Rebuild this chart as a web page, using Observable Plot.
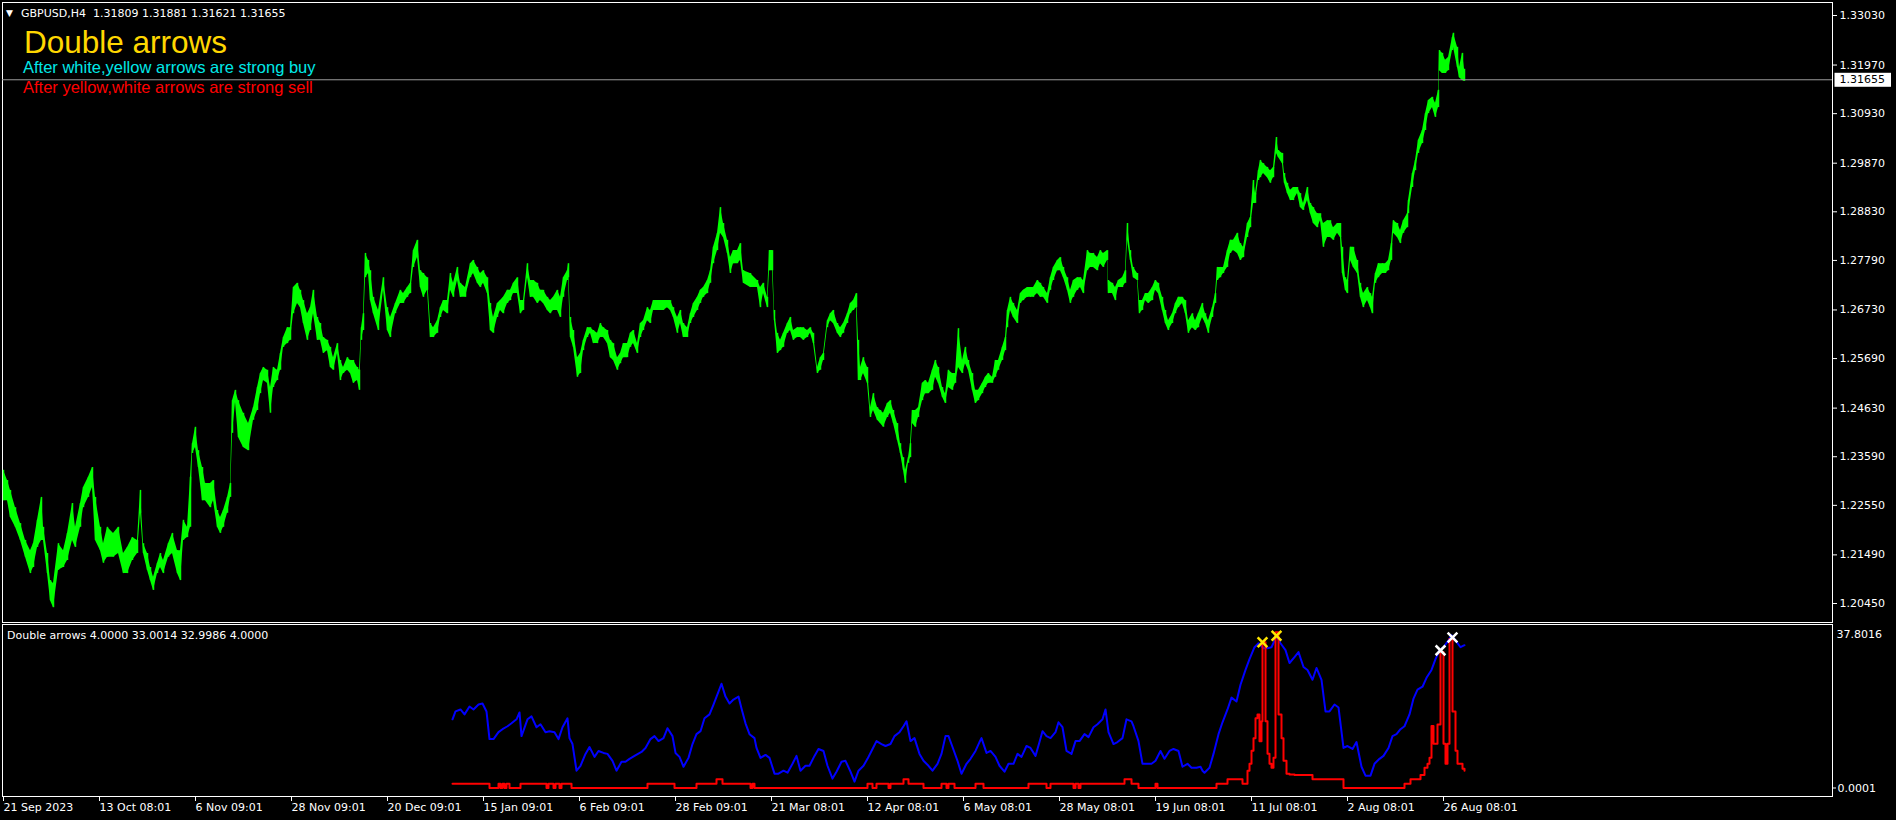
<!DOCTYPE html>
<html><head><meta charset="utf-8">
<script src="https://cdn.jsdelivr.net/npm/d3@7"></script>
<script src="https://cdn.jsdelivr.net/npm/@observablehq/plot@0.6"></script>
<style>
html,body{margin:0;padding:0;background:#000;}
#wrap{position:relative;width:1896px;height:820px;background:#000;overflow:hidden;}
#wrap svg{position:absolute;left:0;}
</style></head><body><div id="wrap"></div>
<script>
// ---- main chart: GBPUSD H4 bars (bar number, high, low) ----
const priceBar = [
0,4,7,12,17,22,27,30,34,38, 40,44,47,50,55,60,64,69,72,77, 80,85,89,92,97,100,104,110,115,120,
124,129,134,137,140,144,147,150,154,157, 160,165,169,174,177,180,184,187,189,192, 195,199,202,207,210,214,217,220,224,227,
229,232,235,240,245,250,254,257,260,264, 267,270,274,277,280,284,287,290,294,297, 300,304,307,310,314,317,320,324,327,330,
334,337,340,344,347,350,354,356,358,360, 362,365,367,370,375,380,384,387,392,397, 400,404,407,410,414,417,420,424,427,430,
434,437,440,444,447,450,454,457,462,467, 470,474,477,480,484,487,490,494,497,500, 504,507,510,514,517,520,524,527,530,534,
537,540,544,547,550,554,557,560,564,565, 567,570,574,577,580,584,587,590,594,597, 600,604,607,610,614,617,620,624,627,630,
634,637,640,644,647,650,654,657,660,664, 667,670,674,677,680,684,687,690,694,697, 700,704,707,710,714,717,720,724,727,730,
734,737,740,747,754,757,760,764,766,769, 771,774,777,780,784,787,790,794,797,800, 804,807,810,814,817,820,824,827,830,834,
837,840,844,847,850,853,855,857,860,864, 867,870,874,877,880,884,887,890,894,897, 900,902,905,907,909,912,915,919,922,925,
929,932,935,939,942,945,949,952,955,959, 962,965,969,972,975,979,982,985,989,992, 995,999,1002,1004,1007,1010,1014,1017,1020,1024,
1027,1030,1034,1037,1040,1044,1047,1050,1054,1057, 1060,1064,1067,1070,1074,1077,1080,1084,1087,1090, 1094,1097,1100,1104,1105,1109,1112,1115,1119,1122,
1124,1127,1130,1134,1136,1139,1142,1145,1149,1152, 1155,1159,1162,1165,1169,1172,1175,1179,1182,1185, 1189,1192,1195,1199,1202,1205,1209,1212,1214,1217,
1220,1224,1227,1230,1234,1237,1240,1244,1247,1250, 1252,1255,1257,1260,1264,1267,1270,1273,1275,1279, 1281,1284,1287,1290,1294,1297,1300,1304,1307,1310,
1314,1317,1320,1324,1327,1330,1334,1337,1339,1342, 1344,1347,1350,1354,1357,1360,1364,1367,1369,1372, 1375,1379,1382,1385,1388,1390,1394,1397,1400,1404,
1405,1409,1412,1415,1419,1422,1425,1429,1432,1435, 1436,1439,1442,1445,1449,1450,1454,1456,1459,1461
];
const priceHigh = [
1.2330,1.2308,1.2287,1.2250,1.2216,1.2180,1.2158,1.2173,1.2223,1.2272, 1.2208,1.2152,1.2094,1.2088,1.2173,1.2158,1.2195,1.2259,1.2208,1.2259, 1.2293,1.2315,1.2336,1.2272,1.2208,1.2173,1.2208,1.2195,1.2208,1.2152,
1.2165,1.2186,1.2180,1.2287,1.2173,1.2152,1.2122,1.2101,1.2131,1.2152, 1.2137,1.2173,1.2195,1.2158,1.2158,1.2223,1.2208,1.2315,1.2387,1.2422, 1.2372,1.2336,1.2302,1.2302,1.2308,1.2244,1.2229,1.2244,1.2272,1.2302,
1.2479,1.2501,1.2479,1.2452,1.2430,1.2464,1.2507,1.2537,1.2550,1.2544, 1.2507,1.2550,1.2544,1.2580,1.2614,1.2635,1.2635,1.2721,1.2730,1.2715, 1.2693,1.2665,1.2678,1.2715,1.2657,1.2644,1.2614,1.2608,1.2593,1.2571,
1.2601,1.2565,1.2550,1.2571,1.2565,1.2565,1.2550,1.2544,1.2635,1.2665, 1.2794,1.2779,1.2757,1.2700,1.2672,1.2742,1.2678,1.2657,1.2687,1.2715, 1.2708,1.2721,1.2730,1.2800,1.2822,1.2757,1.2751,1.2742,1.2644,1.2635,
1.2650,1.2678,1.2693,1.2693,1.2751,1.2730,1.2764,1.2730,1.2721,1.2772, 1.2779,1.2764,1.2751,1.2757,1.2742,1.2687,1.2657,1.2687,1.2693,1.2700, 1.2715,1.2715,1.2730,1.2742,1.2693,1.2693,1.2772,1.2736,1.2736,1.2730,
1.2715,1.2715,1.2700,1.2693,1.2700,1.2715,1.2700,1.2742,1.2757,1.2772, 1.2657,1.2629,1.2571,1.2580,1.2608,1.2635,1.2635,1.2629,1.2623,1.2644, 1.2635,1.2629,1.2608,1.2601,1.2571,1.2580,1.2601,1.2601,1.2623,1.2629,
1.2601,1.2644,1.2650,1.2678,1.2672,1.2693,1.2693,1.2693,1.2693,1.2693, 1.2693,1.2678,1.2657,1.2672,1.2644,1.2635,1.2665,1.2687,1.2700,1.2715, 1.2721,1.2736,1.2757,1.2807,1.2837,1.2892,1.2858,1.2822,1.2785,1.2800,
1.2800,1.2815,1.2757,1.2751,1.2736,1.2721,1.2730,1.2700,1.2800,1.2800, 1.2672,1.2623,1.2608,1.2623,1.2644,1.2657,1.2629,1.2635,1.2635,1.2635, 1.2629,1.2635,1.2623,1.2550,1.2571,1.2580,1.2650,1.2665,1.2672,1.2644,
1.2635,1.2644,1.2665,1.2687,1.2693,1.2708,1.2608,1.2550,1.2571,1.2550, 1.2464,1.2494,1.2464,1.2458,1.2452,1.2473,1.2479,1.2458,1.2430,1.2387, 1.2357,1.2330,1.2357,1.2387,1.2458,1.2458,1.2464,1.2516,1.2522,1.2516,
1.2544,1.2565,1.2550,1.2507,1.2494,1.2544,1.2537,1.2537,1.2633,1.2565, 1.2593,1.2565,1.2537,1.2501,1.2501,1.2516,1.2529,1.2537,1.2529,1.2565, 1.2565,1.2593,1.2614,1.2672,1.2700,1.2687,1.2672,1.2708,1.2715,1.2721,
1.2721,1.2721,1.2736,1.2730,1.2721,1.2708,1.2742,1.2764,1.2779,1.2785, 1.2764,1.2742,1.2715,1.2736,1.2742,1.2742,1.2736,1.2800,1.2794,1.2794, 1.2785,1.2800,1.2794,1.2800,1.2736,1.2730,1.2721,1.2736,1.2742,1.2757,
1.2858,1.2800,1.2764,1.2751,1.2693,1.2693,1.2708,1.2708,1.2721,1.2736, 1.2730,1.2700,1.2672,1.2650,1.2665,1.2687,1.2700,1.2700,1.2693,1.2650, 1.2665,1.2650,1.2665,1.2687,1.2665,1.2650,1.2678,1.2708,1.2764,1.2764,
1.2764,1.2800,1.2822,1.2822,1.2837,1.2815,1.2807,1.2858,1.2871,1.2950, 1.2922,1.2971,1.2993,1.2986,1.2978,1.2971,1.2978,1.3042,1.3014,1.3008, 1.2965,1.2944,1.2929,1.2935,1.2935,1.2922,1.2901,1.2935,1.2901,1.2892,
1.2879,1.2879,1.2858,1.2864,1.2864,1.2849,1.2858,1.2858,1.2807,1.2742, 1.2736,1.2807,1.2807,1.2779,1.2730,1.2708,1.2721,1.2708,1.2700,1.2751, 1.2772,1.2772,1.2772,1.2779,1.2815,1.2864,1.2858,1.2843,1.2864,1.2879,
1.2907,1.2965,1.2993,1.3036,1.3057,1.3093,1.3121,1.3128,1.3115,1.3143, 1.3228,1.3222,1.3207,1.3213,1.3256,1.3265,1.3235,1.3192,1.3222,1.3188
];
const priceLow = [
1.2265,1.2265,1.2229,1.2208,1.2180,1.2144,1.2109,1.2122,1.2165,1.2180, 1.2180,1.2109,1.2051,1.2036,1.2116,1.2122,1.2137,1.2180,1.2165,1.2208, 1.2250,1.2272,1.2293,1.2180,1.2158,1.2131,1.2144,1.2144,1.2152,1.2109,
1.2109,1.2137,1.2152,1.2238,1.2152,1.2116,1.2094,1.2073,1.2109,1.2122, 1.2109,1.2144,1.2152,1.2109,1.2094,1.2180,1.2186,1.2208,1.2366,1.2379, 1.2336,1.2265,1.2265,1.2250,1.2265,1.2208,1.2195,1.2208,1.2238,1.2272,
1.2409,1.2475,1.2400,1.2379,1.2372,1.2437,1.2458,1.2494,1.2522,1.2516, 1.2452,1.2507,1.2522,1.2544,1.2593,1.2601,1.2608,1.2665,1.2687,1.2678, 1.2644,1.2608,1.2629,1.2665,1.2608,1.2608,1.2580,1.2586,1.2550,1.2544,
1.2580,1.2522,1.2537,1.2544,1.2537,1.2516,1.2522,1.2501,1.2608,1.2629, 1.2742,1.2751,1.2693,1.2665,1.2629,1.2715,1.2629,1.2614,1.2665,1.2687, 1.2687,1.2700,1.2708,1.2764,1.2785,1.2721,1.2700,1.2715,1.2614,1.2614,
1.2623,1.2657,1.2672,1.2665,1.2715,1.2700,1.2736,1.2700,1.2700,1.2742, 1.2751,1.2730,1.2721,1.2730,1.2708,1.2629,1.2623,1.2657,1.2672,1.2665, 1.2687,1.2693,1.2708,1.2708,1.2665,1.2672,1.2742,1.2700,1.2700,1.2687,
1.2693,1.2687,1.2672,1.2665,1.2672,1.2672,1.2657,1.2700,1.2736,1.2742, 1.2614,1.2593,1.2529,1.2537,1.2586,1.2614,1.2623,1.2601,1.2601,1.2614, 1.2614,1.2601,1.2571,1.2565,1.2544,1.2558,1.2571,1.2571,1.2593,1.2601,
1.2580,1.2614,1.2629,1.2650,1.2644,1.2672,1.2672,1.2672,1.2672,1.2678, 1.2672,1.2657,1.2623,1.2644,1.2614,1.2614,1.2644,1.2657,1.2672,1.2687, 1.2700,1.2708,1.2730,1.2772,1.2800,1.2837,1.2828,1.2794,1.2751,1.2772,
1.2772,1.2779,1.2730,1.2721,1.2721,1.2678,1.2708,1.2678,1.2757,1.2757, 1.2650,1.2580,1.2586,1.2593,1.2623,1.2629,1.2608,1.2614,1.2614,1.2608, 1.2614,1.2623,1.2601,1.2537,1.2544,1.2565,1.2635,1.2650,1.2644,1.2623,
1.2614,1.2623,1.2644,1.2665,1.2672,1.2678,1.2522,1.2522,1.2537,1.2516, 1.2443,1.2458,1.2437,1.2430,1.2422,1.2443,1.2452,1.2430,1.2394,1.2366, 1.2330,1.2302,1.2345,1.2357,1.2430,1.2422,1.2443,1.2479,1.2494,1.2494,
1.2501,1.2529,1.2516,1.2486,1.2473,1.2507,1.2501,1.2516,1.2550,1.2537, 1.2558,1.2544,1.2501,1.2473,1.2479,1.2494,1.2507,1.2516,1.2516,1.2529, 1.2544,1.2565,1.2586,1.2635,1.2672,1.2657,1.2644,1.2687,1.2693,1.2700,
1.2700,1.2700,1.2708,1.2700,1.2700,1.2687,1.2715,1.2736,1.2757,1.2757, 1.2742,1.2715,1.2687,1.2700,1.2715,1.2721,1.2708,1.2757,1.2764,1.2764, 1.2757,1.2772,1.2764,1.2779,1.2708,1.2708,1.2693,1.2721,1.2721,1.2730,
1.2822,1.2779,1.2742,1.2736,1.2665,1.2672,1.2693,1.2687,1.2693,1.2715, 1.2708,1.2672,1.2644,1.2629,1.2644,1.2665,1.2678,1.2687,1.2665,1.2623, 1.2635,1.2629,1.2635,1.2657,1.2644,1.2623,1.2657,1.2687,1.2736,1.2742,
1.2751,1.2764,1.2794,1.2800,1.2794,1.2779,1.2785,1.2828,1.2849,1.2901, 1.2901,1.2950,1.2956,1.2965,1.2956,1.2944,1.2956,1.3008,1.2999,1.2986, 1.2944,1.2922,1.2907,1.2907,1.2922,1.2892,1.2886,1.2907,1.2879,1.2858,
1.2849,1.2864,1.2807,1.2828,1.2828,1.2822,1.2837,1.2828,1.2751,1.2715, 1.2708,1.2779,1.2764,1.2751,1.2700,1.2678,1.2693,1.2678,1.2665,1.2730, 1.2742,1.2751,1.2751,1.2757,1.2779,1.2837,1.2828,1.2815,1.2837,1.2849,
1.2879,1.2935,1.2971,1.3008,1.3029,1.3057,1.3093,1.3106,1.3085,1.3106, 1.3185,1.3179,1.3179,1.3185,1.3228,1.3235,1.3192,1.3170,1.3164,1.3162
];
const lastClose = 1.31655;
const priceTicks = [1.33030,1.31970,1.30930,1.29870,1.28830,1.27790,1.26730,1.25690,1.24630,1.23590,1.22550,1.21490,1.20450];

// ---- "Double arrows" indicator window ----
const blueBar = [
449,452,457,461,466,470,475,479,483,486, 490,495,499,504,508,513,516,518,524,528,
533,537,542,546,551,555,559,564,566,569, 573,577,582,586,591,595,600,604,609,613,
618,622,626,631,638,642,647,651,655,660, 664,669,672,676,680,685,689,693,697,701,
706,710,715,718,722,726,730,735,738,742, 746,751,753,757,762,766,771,775,780,784,
789,793,797,802,806,811,815,820,824,829, 833,838,842,847,851,855,860,864,869,873,
878,882,887,891,896,900,903,907,911,916, 920,925,929,934,938,942,945,949,954,958,
963,967,972,976,978,983,987,992,996,1001, 1005,1010,1014,1018,1023,1027,1032,1036,1039,1043,
1047,1052,1055,1059,1063,1068,1072,1076,1081,1085, 1090,1094,1099,1102,1105,1110,1114,1119,1123,1128,
1130,1135,1139,1143,1148,1152,1157,1161,1166,1170, 1175,1179,1184,1188,1193,1197,1199,1201,1206,1210,
1215,1219,1224,1228,1233,1237,1242,1246,1251,1255, 1260,1264,1268,1273,1277,1282,1286,1291,1295,1300,
1304,1309,1313,1318,1322,1326,1331,1335,1340,1344, 1349,1353,1358,1362,1367,1371,1376,1380,1385,1389,
1393,1397,1401,1406,1410,1414,1419,1423,1428,1432, 1436,1440,1445,1448,1452,1457,1461
];
const blueValue = [
15.87,17.69,18.15,17.01,18.83,18.15,19.29,19.52,17.69,11.30, 11.30,12.90,13.58,14.27,14.95,15.87,17.46,11.99,15.87,16.55,
14.04,14.73,12.90,13.13,12.90,11.30,14.04,16.10,11.53,10.16, 4.00,5.14,7.88,9.47,7.19,8.56,8.10,7.88,6.28,4.00,
6.05,6.05,6.74,7.42,8.33,9.25,11.30,11.99,10.84,11.53, 13.81,11.99,8.10,7.19,4.91,6.96,10.16,12.44,13.13,16.10,
17.01,19.29,22.26,24.09,21.12,19.52,20.43,21.12,18.38,14.95, 12.44,11.53,9.25,6.96,7.65,6.96,3.31,3.31,4.00,3.54,
5.59,7.42,4.00,5.14,5.14,7.42,9.02,8.56,5.14,2.17, 3.77,6.05,6.28,3.77,1.48,4.00,5.14,6.74,9.02,10.84,
10.16,9.70,10.16,11.99,12.90,14.27,15.41,10.84,11.53,7.88, 6.28,5.14,4.00,5.59,7.88,11.99,11.99,9.47,6.28,3.31,
5.59,6.74,8.56,10.62,11.53,8.10,8.56,7.19,5.14,3.77, 5.59,5.59,7.88,7.19,9.70,9.25,7.42,10.62,13.13,11.99,
11.53,12.90,15.18,14.04,8.56,7.88,10.84,10.84,12.44,11.76, 14.04,14.73,15.87,18.15,12.90,10.16,10.62,11.53,15.87,15.41,
14.27,10.84,5.59,5.59,5.59,6.28,8.56,6.74,8.56,9.02, 8.56,4.91,5.59,4.68,4.68,4.91,4.00,3.54,4.68,7.88,
12.44,15.18,18.15,20.89,19.98,23.86,27.28,29.79,32.53,33.45, 32.30,32.30,32.53,35.04,33.45,31.85,28.88,30.25,31.39,27.97,
27.28,25.00,27.74,25.00,17.69,17.69,19.29,18.61,9.25,9.70, 9.02,10.62,4.91,2.85,2.85,5.59,6.74,7.42,9.25,11.99,
12.44,13.58,14.27,17.01,20.66,22.72,23.40,25.46,27.28,29.79, 31.85,32.53,34.13,35.27,34.13,32.53,32.99
];
const redBar = [
449,486,495,497,499,501,503,506,517,543, 545,550,552,556,558,568,644,671,693,713,
719,747,749,751,864,869,873,885,887,900, 905,920,938,943,945,951,972,980,1025,1043,
1047,1070,1072,1075,1077,1121,1128,1135,1152,1154, 1213,1224,1239,1244,1246,1248,1250,1252,1254,1256,
1258,1259,1262,1264,1266,1268,1270,1272,1275,1278, 1280,1283,1286,1291,1309,1340,1401,1407,1417,1421,
1424,1426,1428,1430,1434,1437,1440,1442,1444,1446, 1449,1452,1454,1459,1461
];
const redValue = [
1,0,1,0,1,0,1,0,1,0, 1,0,1,0,1,0,1,0,1,2,
1,0,1,0,1,0,1,0,1,2, 1,0,1,0,1,0,1,0,1,0,
1,0,1,0,1,2,1,0,1,0, 1,2,1,4.0,5.6,8.6,11.5,16.1,17.0,10.8,
15.4,33.7,15.4,7.9,5.6,4.7,7.0,36.0,17.0,11.5, 6.3,3.3,3.1,3,2,0,1,2,3,4.7,
5.6,7.0,14.3,10.2,14.7,31.4,10.2,5.6,10.2,34.4, 17.7,8.6,5.6,4.45,4.0
];
const yellowArrowBar = [1259, 1273];
const yellowArrowValue = [33.7, 35.2];
const whiteArrowBar = [1437, 1449];
const whiteArrowValue = [31.8, 34.8];
const oscMax = 37.8016, oscMin = 0.0001;

// ---- time axis ----
const dateTickBar = [0,96,192,288,384,480,576,672,768,864,960,1056,1152,1248,1344,1440];
const dateTickLabel = ["21 Sep 2023","13 Oct 08:01","6 Nov 09:01","28 Nov 09:01","20 Dec 09:01","15 Jan 09:01","6 Feb 09:01","28 Feb 09:01","21 Mar 08:01","12 Apr 08:01","6 May 08:01","28 May 08:01","19 Jun 08:01","11 Jul 08:01","2 Aug 08:01","26 Aug 08:01"];

// ---- texts ----
const headerText = "GBPUSD,H4  1.31809 1.31881 1.31621 1.31655";
const titleText = "Double arrows";
const buyText = "After white,yellow arrows are strong buy";
const sellText = "After yellow,white arrows are strong sell";
const indicatorText = "Double arrows 4.0000 33.0014 32.9986 4.0000";

const wrap = document.getElementById("wrap");
const plotStyle = "background:#000;color:#fff;font-family:'DejaVu Sans',sans-serif;font-size:11px;overflow:visible;";

const prices = priceBar.map((b, i) => ({bar: b, hi: priceHigh[i], lo: priceLow[i]}));
const blue = blueBar.map((b, i) => ({bar: b, v: blueValue[i]}));
const red = redBar.map((b, i) => ({bar: b, v: redValue[i]}));
const yellowArrows = yellowArrowBar.map((b, i) => ({bar: b, v: yellowArrowValue[i]}));
const whiteArrows = whiteArrowBar.map((b, i) => ({bar: b, v: whiteArrowValue[i]}));

const main = Plot.plot({
  width: 1896, height: 623,
  marginLeft: 2, marginRight: 64, marginTop: 2, marginBottom: 1,
  style: plotStyle,
  x: {domain: [0, 1440], range: [3, 1443], axis: null},
  y: {domain: [1.20450, 1.33030], range: [603, 15], axis: null},
  marks: [
    Plot.frame({stroke: "#fff"}),
    Plot.areaY(prices, {x: "bar", y1: "lo", y2: "hi", fill: "#00ff00", curve: "linear"}),
    Plot.ruleX(prices, {x: "bar", y1: "lo", y2: "hi", stroke: "#00ff00", strokeWidth: 1.5}),
    Plot.ruleY([lastClose], {stroke: "#9a9a9a"}),
    Plot.axisY(priceTicks, {anchor: "right", label: null, tickSize: 4, tickPadding: 3, tickFormat: d => d.toFixed(5), fill: "#fff", stroke: "#fff"}),
    Plot.text([lastClose], {y: d => d, frameAnchor: "right", dx: 7, textAnchor: "start", fill: "#000", text: d => d.toFixed(5)})
  ]
});
main.style.top = "0px";
wrap.appendChild(main);

const lastLabel = lastClose.toFixed(5);
const lt = [...main.querySelectorAll("text")].find(t => t.textContent === lastLabel);
if (lt) {
  const b = lt.getBBox();
  const r = document.createElementNS("http://www.w3.org/2000/svg", "rect");
  r.setAttribute("x", b.x - 5); r.setAttribute("y", b.y - 0.5);
  r.setAttribute("width", b.width + 11); r.setAttribute("height", b.height + 1);
  r.setAttribute("fill", "#fff");
  const tr = lt.getAttribute("transform"); if (tr) r.setAttribute("transform", tr);
  lt.parentNode.insertBefore(r, lt);
}

const sub = Plot.plot({
  width: 1896, height: 197,
  marginLeft: 2, marginRight: 64, marginTop: 1, marginBottom: 24,
  style: plotStyle,
  x: {domain: [0, 1440], range: [3, 1443], axis: null},
  y: {domain: [0, oscMax], range: [164.5, 0.9], axis: null},
  marks: [
    Plot.frame({stroke: "#fff"}),
    Plot.line(blue, {x: "bar", y: "v", stroke: "#0000ff", strokeWidth: 2}),
    Plot.line(red, {x: "bar", y: "v", stroke: "#ff0000", strokeWidth: 2, curve: "step-after"}),
    Plot.dot(yellowArrows, {x: "bar", y: "v", symbol: "times", r: 4.5, stroke: "#ffe600", strokeWidth: 2.5}),
    Plot.dot(whiteArrows, {x: "bar", y: "v", symbol: "times", r: 4.5, stroke: "#ffffff", strokeWidth: 2.5}),
    Plot.axisX(dateTickBar, {anchor: "bottom", label: null, tickSize: 5, tickPadding: 2, textAnchor: "start", tickFormat: d => dateTickLabel[dateTickBar.indexOf(d)], fill: "#fff", stroke: "#fff"}),
    Plot.axisY([oscMin], {anchor: "right", label: null, tickSize: 3, tickPadding: 2, tickFormat: d => d.toFixed(4), fill: "#fff", stroke: "#fff"}),
    Plot.axisY([oscMax], {anchor: "right", label: null, tickSize: 0, tickPadding: 4, dy: 10, tickFormat: d => d.toFixed(4), fill: "#fff"})
  ]
});
sub.style.top = "623px";
wrap.appendChild(sub);

// ---- overlay texts ----
const ov = d3.create("svg").attr("width", 1896).attr("height", 820).style("top", "0px").style("pointer-events", "none");
ov.append("text").attr("x", 6).attr("y", 16).attr("fill", "#fff").style("font", "9px 'DejaVu Sans'").text("▼");
ov.append("text").attr("x", 21).attr("y", 17).attr("fill", "#fff").style("font", "11px 'DejaVu Sans'").style("white-space", "pre").text(headerText);
ov.append("text").attr("x", 24).attr("y", 53).attr("fill", "#ffd700").style("font", "31.5px 'Liberation Sans', Arial, sans-serif").text(titleText);
ov.append("text").attr("x", 23).attr("y", 73).attr("fill", "#00e8e8").style("font", "16.5px 'Liberation Sans', Arial, sans-serif").text(buyText);
ov.append("text").attr("x", 23).attr("y", 93).attr("fill", "#ff0000").style("font", "16.5px 'Liberation Sans', Arial, sans-serif").text(sellText);
ov.append("text").attr("x", 7).attr("y", 639).attr("fill", "#fff").style("font", "11px 'DejaVu Sans'").text(indicatorText);
wrap.appendChild(ov.node());
</script></body></html>
